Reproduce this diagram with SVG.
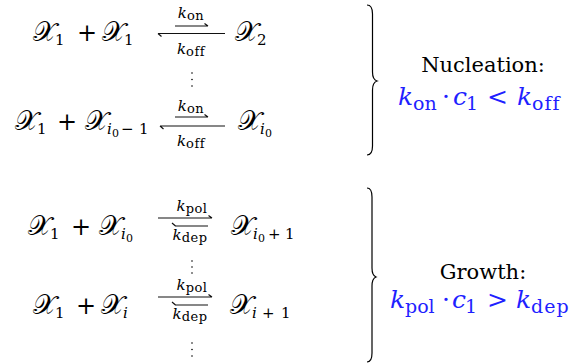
<svg xmlns="http://www.w3.org/2000/svg" width="575" height="363" viewBox="0 0 575 363">
<style>
text{font-family:"DejaVu Serif",serif;fill:#000}
.m{font-size:24px}
.t{font-size:21px}
.x{font-family:"DejaVu Serif","DejaVu Sans","Noto Sans",serif;font-size:27px}
.it{font-style:italic}
.s{font-size:15px}
.ss{font-size:11px}
.lab{font-size:15px}
.ls{font-size:13px;letter-spacing:0.5px}
.bf{font-size:25px;fill:#1f1fff}
.bs{font-size:19px}
.ln{stroke:#111;stroke-width:1.2;fill:none}
.br{stroke:#000;stroke-width:1.2;fill:none}
.dot{fill:#000}
</style>
<g id="connectors">
<path class="ln" d="M175,26H208M204.5,23.5L208,26M158,33.5H225M158,33.5L161.5,36.5"/>
<path class="ln" d="M175,117H208M204.5,114.5L208,117M160,126H225M160,126L163.5,129"/>
<path class="ln" d="M158,218H212M208.5,215.5L212,218M175,226H208M172,223L175.5,226"/>
<path class="ln" d="M158,297H212M208.5,294.5L212,297M175,305H208M172,302L175.5,305"/>
</g>
<g id="row1">
<text class="m" y="41"><tspan class="x" x="33">𝒳</tspan><tspan class="s" x="55" y="45">1</tspan><tspan x="77" y="41">+</tspan><tspan class="x" x="102">𝒳</tspan><tspan class="s" x="124" y="45">1</tspan></text>
<text class="lab" x="191" y="18" text-anchor="middle"><tspan class="it">k</tspan><tspan class="ls" dy="2">on</tspan></text>
<text class="lab" x="191" y="54" text-anchor="middle"><tspan class="it">k</tspan><tspan class="ls" dy="2">off</tspan></text>
<text class="m" y="41"><tspan class="x" x="235">𝒳</tspan><tspan class="s" x="257" y="45">2</tspan></text>
</g>
<g id="dots1">
<circle class="dot" cx="192" cy="73" r="0.8"/><circle class="dot" cx="192" cy="79.5" r="0.8"/><circle class="dot" cx="192" cy="86" r="0.8"/>
</g>
<g id="row2">
<text class="m" y="130"><tspan class="x" x="15">𝒳</tspan><tspan class="s" x="37" y="134">1</tspan><tspan x="57" y="130">+</tspan><tspan class="x" x="85">𝒳</tspan><tspan class="s it" x="107" y="134">i</tspan><tspan class="ss" x="112" y="137">0</tspan><tspan class="s" x="121" y="134">−</tspan><tspan class="s" x="139">1</tspan></text>
<text class="lab" x="191" y="111" text-anchor="middle"><tspan class="it">k</tspan><tspan class="ls" dy="2">on</tspan></text>
<text class="lab" x="191" y="146" text-anchor="middle"><tspan class="it">k</tspan><tspan class="ls" dy="2">off</tspan></text>
<text class="m" y="130"><tspan class="x" x="238">𝒳</tspan><tspan class="s it" x="260" y="134">i</tspan><tspan class="ss" x="265" y="137">0</tspan></text>
</g>
<g id="nucleation">
<path class="br" d="M367,5C371,5 372.5,8 372.5,14L372.5,72C372.5,78 374,80 377,81C374,82 372.5,84 372.5,90L372.5,146C372.5,152 371,155 367,155"/>
<text class="t" x="483" y="72" text-anchor="middle">Nucleation:</text>
<text class="bf" y="105"><tspan class="it" x="398">k</tspan><tspan class="bs" x="413" y="110">on</tspan><tspan x="442" y="105">·</tspan><tspan class="it" x="453">c</tspan><tspan class="bs" x="466" y="110">1</tspan><tspan x="487" y="105">&lt;</tspan><tspan class="it" x="517">k</tspan><tspan class="bs" x="532" y="110" letter-spacing="1">off</tspan></text>
</g>
<g id="row3">
<text class="m" y="235"><tspan class="x" x="28">𝒳</tspan><tspan class="s" x="50" y="239">1</tspan><tspan x="71" y="235">+</tspan><tspan class="x" x="99">𝒳</tspan><tspan class="s it" x="121" y="239">i</tspan><tspan class="ss" x="126" y="242">0</tspan></text>
<text class="lab" x="192" y="211" text-anchor="middle"><tspan class="it">k</tspan><tspan class="ls" dy="2">pol</tspan></text>
<text class="lab" x="190" y="240" text-anchor="middle"><tspan class="it">k</tspan><tspan class="ls" dy="2">dep</tspan></text>
<text class="m" y="235"><tspan class="x" x="231">𝒳</tspan><tspan class="s it" x="253" y="239">i</tspan><tspan class="ss" x="258" y="242">0</tspan><tspan class="s" x="268" y="239">+</tspan><tspan class="s" x="285">1</tspan></text>
</g>
<g id="dots2">
<circle class="dot" cx="192" cy="261" r="0.8"/><circle class="dot" cx="192" cy="267" r="0.8"/><circle class="dot" cx="192" cy="273" r="0.8"/>
</g>
<g id="row4">
<text class="m" y="314"><tspan class="x" x="33">𝒳</tspan><tspan class="s" x="55" y="318">1</tspan><tspan x="76" y="314">+</tspan><tspan class="x" x="101">𝒳</tspan><tspan class="s it" x="123" y="318">i</tspan></text>
<text class="lab" x="192" y="290" text-anchor="middle"><tspan class="it">k</tspan><tspan class="ls" dy="2">pol</tspan></text>
<text class="lab" x="190" y="319" text-anchor="middle"><tspan class="it">k</tspan><tspan class="ls" dy="2">dep</tspan></text>
<text class="m" y="314"><tspan class="x" x="230">𝒳</tspan><tspan class="s it" x="252" y="318">i</tspan><tspan class="s" x="262">+</tspan><tspan class="s" x="281">1</tspan></text>
</g>
<g id="dots3">
<circle class="dot" cx="192" cy="343" r="0.8"/><circle class="dot" cx="192" cy="349.5" r="0.8"/><circle class="dot" cx="192" cy="356" r="0.8"/>
</g>
<g id="growth">
<path class="br" d="M367,188C371,188 372,191 372,197L372,268C372,274 373.5,276 376,277C373.5,278 372,280 372,286L372,353C372,359 371,362 367,362"/>
<text class="t" x="483" y="279" text-anchor="middle">Growth:</text>
<text class="bf" y="308"><tspan class="it" x="390">k</tspan><tspan class="bs" x="405" y="313">pol</tspan><tspan x="442" y="308">·</tspan><tspan class="it" x="452">c</tspan><tspan class="bs" x="465" y="313">1</tspan><tspan x="487" y="308">&gt;</tspan><tspan class="it" x="516">k</tspan><tspan class="bs" x="531" y="313" letter-spacing="1">dep</tspan></text>
</g>
</svg>
